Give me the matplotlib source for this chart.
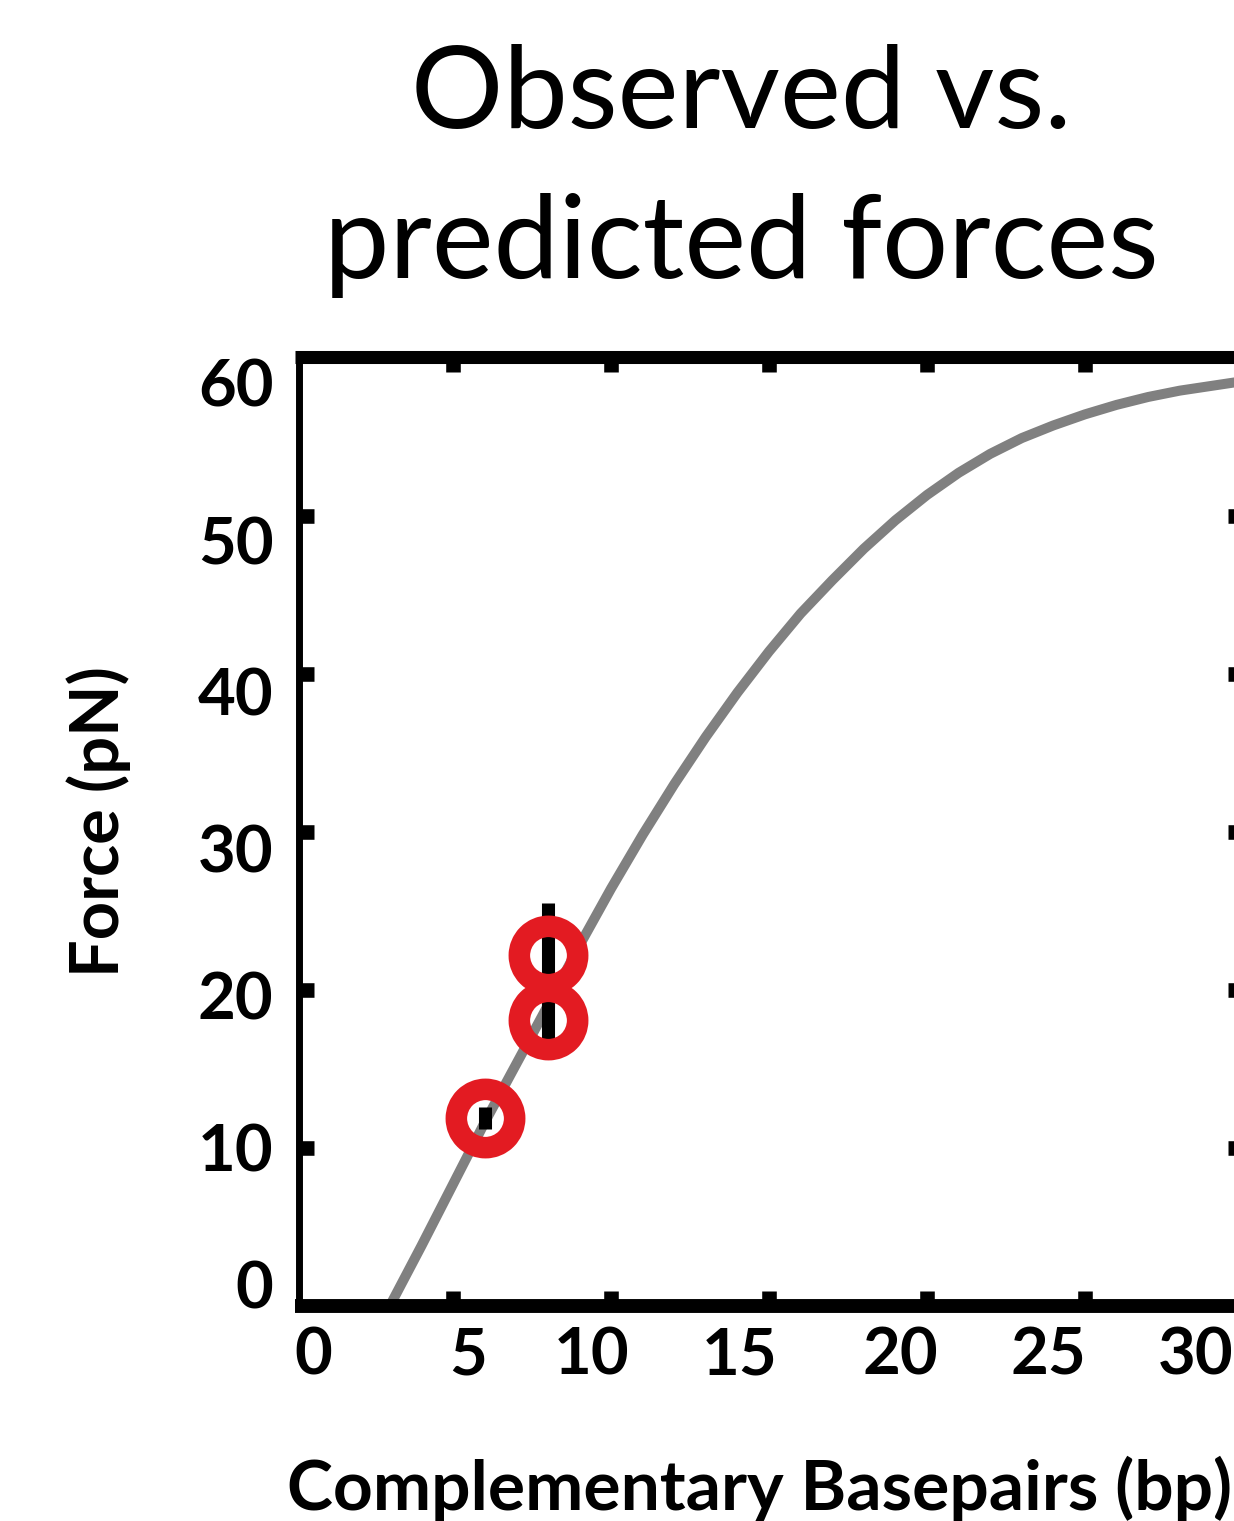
import matplotlib
matplotlib.use("Agg")
import matplotlib.pyplot as plt
from matplotlib.transforms import ScaledTranslation

plt.rcParams["font.family"] = ["Lato", "DejaVu Sans"]

# predicted force curve
curve_bp = [3.0, 4.0, 5.0, 6.0, 7.0, 8.0, 9.0, 10.0, 11.0, 12.0, 13.0, 14.0, 15.0,
            16.0, 17.0, 18.0, 19.0, 20.0, 21.0, 22.0, 23.0, 24.0, 25.0, 26.0, 27.0,
            28.0, 29.0, 30.0]
curve_pn = [0.0, 3.8, 7.7, 11.6, 15.3, 19.0, 22.8, 26.4, 29.8, 33.0, 36.0, 38.8, 41.4,
            43.8, 45.9, 47.9, 49.7, 51.3, 52.7, 53.9, 54.9, 55.7, 56.4, 57.0, 57.5,
            57.9, 58.2, 58.5]

# observed forces
obs_bp = [6, 8, 8]
obs_pn = [11.9, 22.2, 18.1]
obs_err = [0.7, 3.3, 1.3]

xticks = [0, 5, 10, 15, 20, 25, 30]
yticks = [0, 10, 20, 30, 40, 50, 60]

fig = plt.figure(figsize=(12.34, 15.21), dpi=100)
ax = fig.add_axes([0.2391, 0.1414, 0.7682, 0.6236])

ax.plot(curve_bp, curve_pn, color="#808080", lw=7.2, solid_capstyle="butt",
        solid_joinstyle="round", zorder=2)
ax.errorbar(obs_bp, obs_pn, yerr=obs_err, fmt="none", ecolor="black", elinewidth=9.4,
            capsize=0, zorder=3)
ax.plot(obs_bp, obs_pn, ls="none", marker="o", ms=42, mfc="none", mec="#E31B22",
        mew=15.5, zorder=4)

ax.set_xlim(0, 30)
ax.set_ylim(0, 60)
ax.set_xticks(xticks)
ax.set_yticks(yticks)
ax.set_xticklabels([str(t) for t in xticks])
ax.set_yticklabels([str(t) for t in yticks])

for side, lw in [("top", 9.4), ("bottom", 10), ("left", 5), ("right", 10)]:
    ax.spines[side].set_linewidth(lw)
    ax.spines[side].set_color("black")
    ax.spines[side].set_capstyle("butt")
ax.spines["left"].set_position(("outward", -2.5))

ax.tick_params(axis="both", which="major", direction="in", length=11, width=10.5,
               color="black", top=True, right=True, labelsize=47)
ax.tick_params(axis="x", pad=36)
ax.tick_params(axis="y", pad=18)
for lbl in ax.get_xticklabels() + ax.get_yticklabels():
    lbl.set_fontweight("bold")
    lbl.set_va("center")

# no tick marks in the corners, the spines cover them
for ticks in (ax.xaxis.get_major_ticks(), ax.yaxis.get_major_ticks()):
    for tick in (ticks[0], ticks[-1]):
        tick.tick1line.set_visible(False)
        tick.tick2line.set_visible(False)

# the labels sit a little off their ticks in the original figure (px offsets)
x_shift = [18, 15, -19, -29, -27, -37, -47]
y_shift = [16, -5, -11, -22, -23, -30, -31]
for tick, dx in zip(ax.xaxis.get_major_ticks(), x_shift):
    tick.label1.set_transform(tick.label1.get_transform()
                              + ScaledTranslation(dx / 100, 0, fig.dpi_scale_trans))
for tick, dy in zip(ax.yaxis.get_major_ticks(), y_shift):
    tick.label1.set_transform(tick.label1.get_transform()
                              + ScaledTranslation(0, dy / 100, fig.dpi_scale_trans))

ax.set_xlabel("Complementary Basepairs (bp)", fontsize=50, fontweight="bold", va="baseline")
ax.xaxis.set_label_coords(0.4895, -0.2155)
ax.set_ylabel("Force (pN)", fontsize=48, fontweight="bold", va="center")
ax.yaxis.set_label_coords(-0.207, 0.511)

fig.text(0.601, 0.9158, "Observed vs.", fontsize=83, ha="center", va="baseline")
fig.text(0.601, 0.8172, "predicted forces", fontsize=84, ha="center", va="baseline")

fig.savefig("out.png", dpi=100)
